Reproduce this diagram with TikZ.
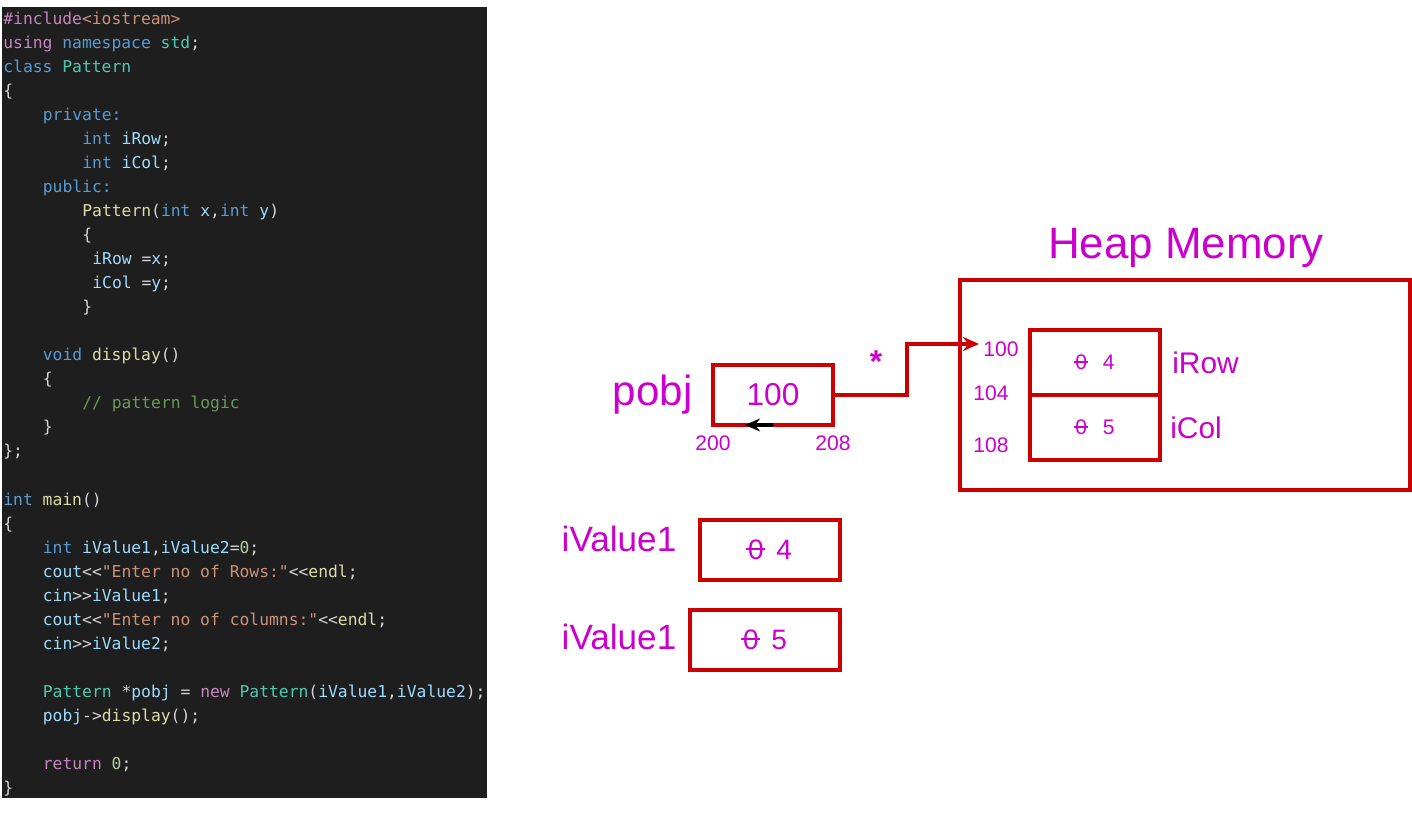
\documentclass[tikz,border=0pt]{standalone}
\usepackage{fontspec}
\setsansfont{Liberation Sans}
\setmonofont{DejaVu Sans Mono}
\usetikzlibrary{positioning,arrows.meta}

\definecolor{codebg}{HTML}{1E1E1E}
\definecolor{codefg}{HTML}{D4D4D4}
\definecolor{cKw}{HTML}{569CD6}
\definecolor{cCtl}{HTML}{C586C0}
\definecolor{cTy}{HTML}{4EC9B0}
\definecolor{cFn}{HTML}{DCDCAA}
\definecolor{cVr}{HTML}{9CDCFE}
\definecolor{cStr}{HTML}{CE9178}
\definecolor{cNum}{HTML}{B5CEA8}
\definecolor{cCom}{HTML}{6A9955}
\definecolor{memred}{HTML}{CC0000}
\definecolor{memtext}{HTML}{CC00CC}

\newcommand{\cKw}[1]{\textcolor{cKw}{#1}}
\newcommand{\cCtl}[1]{\textcolor{cCtl}{#1}}
\newcommand{\cTy}[1]{\textcolor{cTy}{#1}}
\newcommand{\cFn}[1]{\textcolor{cFn}{#1}}
\newcommand{\cVr}[1]{\textcolor{cVr}{#1}}
\newcommand{\cStr}[1]{\textcolor{cStr}{#1}}
\newcommand{\cNum}[1]{\textcolor{cNum}{#1}}
\newcommand{\cCom}[1]{\textcolor{cCom}{#1}}
\newcommand{\struck}[1]{\makebox[0pt][l]{\hspace{-0.06em}\rule[0.34em]{0.68em}{0.07em}}#1}

\begin{document}
\begin{tikzpicture}[
    x=0.02cm, y=-0.02cm,
    code/.style={anchor=base west, inner sep=0pt, text=codefg,
        font=\ttfamily\fontsize{9.3}{11}\selectfont},
    memtxt/.style={inner sep=0pt, text=memtext, font=\sffamily},
    addr/.style={memtxt, font=\sffamily\fontsize{12}{14}\selectfont},
    field/.style={memtxt, font=\sffamily\fontsize{17}{20}\selectfont},
    varname/.style={memtxt, font=\sffamily\fontsize{20}{24}\selectfont},
    box/.style={draw=memred, line width=2pt, inner sep=0pt, outer sep=0pt,
        text=memtext, font=\sffamily},
    cell/.style={box, minimum width=2.6cm, minimum height=1.3cm,
        font=\sffamily\fontsize{12}{14}\selectfont},
    valbox/.style={box, minimum height=1.2cm,
        font=\sffamily\fontsize{16}{18}\selectfont},
    ptr/.style={draw=memred, line width=2pt, -{Stealth[length=3.2mm,width=2.8mm]}}
]
\useasboundingbox (0,0) rectangle (1412,820);

% Code panel
\fill[codebg] (2,7) rectangle (487,798);
\node[code] (l1) at (3,25) {\cCtl{\#include}\cStr{<iostream>}};
\node[code] (l2) at (3,49) {\cCtl{using} \cKw{namespace} \cTy{std};};
\node[code] (l3) at (3,73) {\cKw{class} \cTy{Pattern}};
\node[code] (l4) at (3,97) {\{};
\node[code] (l5) at (42.5,121) {\cKw{private:}};
\node[code] (l6) at (82,145) {\cKw{int} \cVr{iRow};};
\node[code] (l7) at (82,169) {\cKw{int} \cVr{iCol};};
\node[code] (l8) at (42.5,193) {\cKw{public:}};
\node[code] (l9) at (82,217) {\cFn{Pattern}(\cKw{int} \cVr{x},\cKw{int} \cVr{y})};
\node[code] (l10) at (82,241) {\{};
\node[code] (l11) at (92,265) {\cVr{iRow} =\cVr{x};};
\node[code] (l12) at (92,289) {\cVr{iCol} =\cVr{y};};
\node[code] (l13) at (82,313) {\}};
\node[code] (l15) at (42.5,361) {\cKw{void} \cFn{display}()};
\node[code] (l16) at (42.5,385) {\{};
\node[code] (l17) at (82,409) {\cCom{// pattern logic}};
\node[code] (l18) at (42.5,433) {\}};
\node[code] (l19) at (3,457) {\};};
\node[code] (l21) at (3,505) {\cKw{int} \cFn{main}()};
\node[code] (l22) at (3,529) {\{};
\node[code] (l23) at (42.5,553) {\cKw{int} \cVr{iValue1},\cVr{iValue2}=\cNum{0};};
\node[code] (l24) at (42.5,577) {\cVr{cout}<<\cStr{"Enter no of Rows:"}<<\cFn{endl};};
\node[code] (l25) at (42.5,601) {\cVr{cin}>>\cVr{iValue1};};
\node[code] (l26) at (42.5,625) {\cVr{cout}<<\cStr{"Enter no of columns:"}<<\cFn{endl};};
\node[code] (l27) at (42.5,649) {\cVr{cin}>>\cVr{iValue2};};
\node[code] (l29) at (42.5,697) {\cTy{Pattern} *\cVr{pobj} = \cCtl{new} \cTy{Pattern}(\cVr{iValue1},\cVr{iValue2});};
\node[code] (l30) at (42.5,721) {\cVr{pobj}->\cFn{display}();};
\node[code] (l32) at (42.5,769) {\cCtl{return} \cNum{0};};
\node[code] (l33) at (3,793) {\}};

% Heap memory
\node[memtxt, font=\sffamily\fontsize{25}{30}\selectfont] (title) at (1186,248) {Heap Memory};
\node[box, minimum width=9cm, minimum height=4.2cm] (heap) at (1185,385) {};
\node[cell] (rowcell) at (1095,362.5) {\struck{0}\hspace{0.75em}4};
\node[cell, below=0pt of rowcell] (colcell) {\struck{0}\hspace{0.75em}5};
\node[field, right=0.24cm of rowcell] (frow) {iRow};
\node[field, right=0.2cm of colcell] (fcol) {iCol};
\node[addr] (a100) at (1001,349) {100};
\node[addr] (a104) at (991,393) {104};
\node[addr] (a108) at (991,445) {108};

% Pointer on the stack
\node[box, minimum width=2.4cm, minimum height=1.2cm,
    font=\sffamily\fontsize{18}{20}\selectfont] (pobjbox) at (773,395) {100};
\node[memtxt, font=\sffamily\fontsize{24}{28}\selectfont, left=0.4cm of pobjbox] (pobj) {pobj};
\node[addr, below=0.2cm of pobjbox.south west] (a200) {200};
\node[addr, below=0.2cm of pobjbox.south east] (a208) {208};
\node[memtxt, font=\sffamily\bfseries\fontsize{18}{20}\selectfont] (star) at (876,362) {*};

\coordinate (bend) at (907,344);
\coordinate (tip) at (979,344);
\coordinate (back) at (745,425);
\draw[ptr] (pobjbox.east) -| (bend) -- (tip);
\draw[black, line width=2pt, -{Stealth[length=3mm,width=2.6mm]}] (pobjbox.south) -- (back);

% Local variables
\node[valbox, minimum width=2.8cm] (v1box) at (770,550) {\struck{0}\hspace{0.45em}4};
\node[valbox, minimum width=3cm] (v2box) at (765,640) {\struck{0}\hspace{0.45em}5};
\node[varname] (v1) at (619,539) {iValue1};
\node[varname] (v2) at (619,637) {iValue1};

\end{tikzpicture}
\end{document}
